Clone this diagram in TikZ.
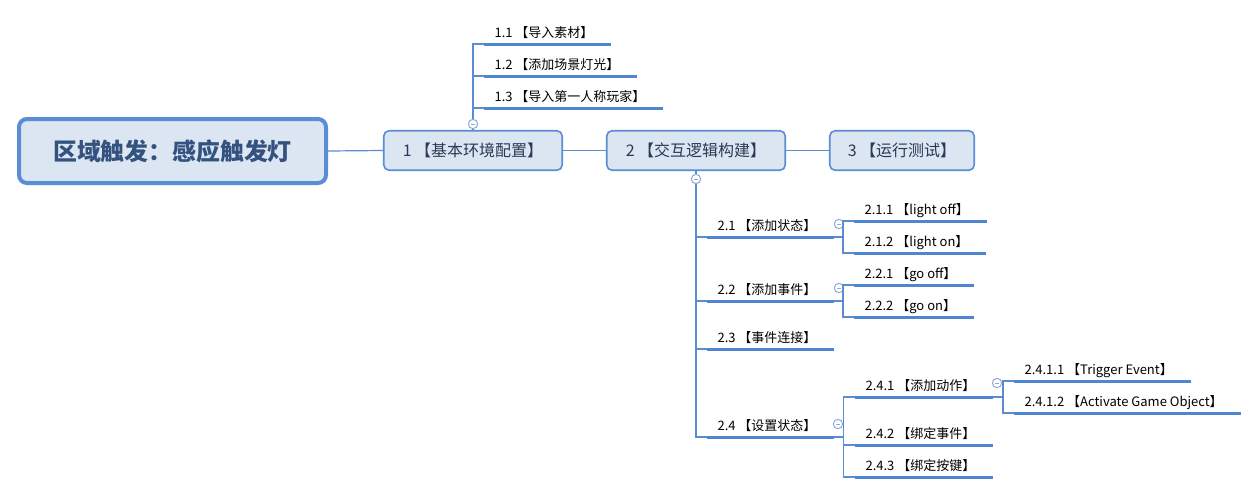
\documentclass[tikz,border=0pt]{standalone}
\usepackage{fontspec}
\setmainfont{Noto Sans CJK SC}
\definecolor{lc}{HTML}{5B8BD3}
\definecolor{ul}{HTML}{4F86D3}
\definecolor{nf}{HTML}{DCE6F2}
\definecolor{nb}{HTML}{5A8DD4}
\definecolor{rt}{HTML}{34527F}
\definecolor{t1}{HTML}{283A55}
\definecolor{fc}{HTML}{8FAAD8}
\begin{document}
\begin{tikzpicture}[x=0.75pt,y=-0.75pt,
 conn/.style={draw=lc, line width=0.9pt},
 uline/.style={draw=ul, line width=2.25pt},
 rootbox/.style={draw=nb, fill=nf, line width=3pt, rounded corners=6pt, minimum width=230.25pt, minimum height=48pt, font=\fontsize{17.9}{20}\selectfont\bfseries, text=rt, inner sep=0},
 mainbox/.style={draw=nb, fill=nf, line width=1.2pt, rounded corners=4pt, minimum height=29.6pt, font=\fontsize{12}{14}\selectfont, text=t1, inner sep=0},
 leaf/.style={anchor=south west, inner xsep=0, inner ysep=5.25pt, text depth=0pt, outer sep=0, font=\fontsize{9.75}{11}\selectfont, text=black, execute at begin node={\hspace{7.9pt}}, execute at end node={\hspace{13.5pt}}},
 fold/.style={circle, draw=fc, fill=white, line width=0.75pt, minimum size=7pt, inner sep=0, path picture={\draw[fc, line width=0.65pt] ([xshift=-1.8pt]path picture bounding box.center) -- ([xshift=1.8pt]path picture bounding box.center);}}
]
\useasboundingbox (0,0) rectangle (1260,494);

% main nodes
\node[rootbox] (root) at (172.5,151) {区域触发：感应触发灯};
\node[mainbox, minimum width=133.9pt] (m1) at (473,150.5) {1 【基本环境配置】};
\node[mainbox, minimum width=133.9pt] (m2) at (696,150.5) {2 【交互逻辑构建】};
\node[mainbox, minimum width=108.4pt] (m3) at (902,150.5) {3 【运行测试】};

% leaves
\node[leaf] (n11) at (484,44) {1.1 【导入素材】};
\node[leaf] (n12) at (484,76) {1.2 【添加场景灯光】};
\node[leaf] (n13) at (484,108) {1.3 【导入第一人称玩家】};
\node[leaf] (n21) at (707,237) {2.1 【添加状态】};
\node[leaf] (n22) at (707,301) {2.2 【添加事件】};
\node[leaf] (n23) at (707,349) {2.3 【事件连接】};
\node[leaf] (n24) at (707,437) {2.4 【设置状态】};
\node[leaf] (n211) at (854,221) {2.1.1 【light off】};
\node[leaf] (n212) at (854,253) {2.1.2 【light on】};
\node[leaf] (n221) at (854,285) {2.2.1 【go off】};
\node[leaf] (n222) at (854,317) {2.2.2 【go on】};
\node[leaf] (n241) at (855,397) {2.4.1 【添加动作】};
\node[leaf] (n242) at (855,445) {2.4.2 【绑定事件】};
\node[leaf] (n243) at (855,477) {2.4.3 【绑定按键】};
\node[leaf] (n2411) at (1014,381) {2.4.1.1 【Trigger Event】};
\node[leaf] (n2412) at (1014,413) {2.4.1.2 【Activate Game Object】};

% fold buttons
\node[fold] (f1) at (473,124) {};
\node[fold] (f2) at (696,179) {};
\node[fold] (f21) at (839,224) {};
\node[fold] (f22) at (839,288) {};
\node[fold] (f24) at (838,424) {};
\node[fold] (f241) at (997,383) {};

% junctions
\coordinate (j21) at (843,237);
\coordinate (j22) at (843,301);
\coordinate (j24) at (843.5,437);
\coordinate (j241) at (1003,397);

% connectors
\draw[conn] (root.east) -- (m1.west);
\draw[conn] (m1.east) -- (m2.west);
\draw[conn] (m2.east) -- (m3.west);
\draw[conn] (m1.north) -- (f1.south);
\draw[conn] (f1.north) |- (n11.south west);
\draw[conn] (f1.north) |- (n12.south west);
\draw[conn] (f1.north) |- (n13.south west);
\draw[conn] (m2.south) -- (f2.north);
\draw[conn] (f2.south) |- (n21.south west);
\draw[conn] (f2.south) |- (n22.south west);
\draw[conn] (f2.south) |- (n23.south west);
\draw[conn] (f2.south) |- (n24.south west);
\draw[conn] (n21.south east) -- (j21);
\draw[conn] (j21) |- (n211.south west);
\draw[conn] (j21) |- (n212.south west);
\draw[conn] (n22.south east) -- (j22);
\draw[conn] (j22) |- (n221.south west);
\draw[conn] (j22) |- (n222.south west);
\draw[conn] (n24.south east) -- (j24);
\draw[conn] (j24) |- (n241.south west);
\draw[conn] (j24) |- (n242.south west);
\draw[conn] (j24) |- (n243.south west);
\draw[conn] (n241.south east) -- (j241);
\draw[conn] (j241) |- (n2411.south west);
\draw[conn] (j241) |- (n2412.south west);

% underlines
\foreach \n in {n11,n12,n13,n21,n22,n23,n24,n211,n212,n221,n222,n241,n242,n243,n2411,n2412}
  \draw[uline] (\n.south west) -- (\n.south east);
\end{tikzpicture}
\end{document}
